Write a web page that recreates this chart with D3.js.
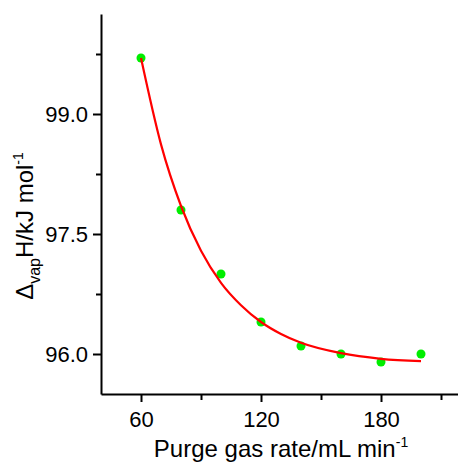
<!DOCTYPE html>
<html>
<head>
<meta charset="utf-8">
<script src="https://cdn.jsdelivr.net/npm/d3@7"></script>
<style>
  body { margin: 0; background: #fff; }
  svg { display: block; font-family: "Liberation Sans", Arial, sans-serif; }
</style>
</head>
<body>
<div id="chart"></div>
<script>
// measured points
const rates = [60, 80, 100, 120, 140, 160, 180, 200];
const enthalpy = [99.70, 97.80, 97.00, 96.40, 96.10, 96.00, 95.90, 96.00];

// fitted curve
const fitRates = [60, 70, 80, 90, 100, 110, 120, 130, 140, 160, 180, 200];
const fitEnthalpy = [99.70, 98.62, 97.85, 97.29, 96.89, 96.61, 96.40, 96.25, 96.14, 96.01, 95.94, 95.91];

const xMajor = [60, 120, 180];
const xMinor = [90, 150, 210];
const yMajor = [96.0, 97.5, 99.0];
const yMinor = [96.75, 98.25, 99.75];

const W = 458, H = 465;

const svg = d3.select("#chart")
  .append("svg")
  .attr("width", W)
  .attr("height", H);

const x = d3.scaleLinear().domain([40, 220]).range([101, 461]);
const y = d3.scaleLinear().domain([95.5, 100.25]).range([394, 14]);

// minor ticks first (no labels)
svg.append("g")
  .attr("transform", "translate(0,394)")
  .call(d3.axisBottom(x).tickValues(xMinor).tickSize(6).tickFormat(""))
  .call(g => g.select(".domain").remove());
svg.append("g")
  .attr("transform", "translate(101,0)")
  .call(d3.axisLeft(y).tickValues(yMinor).tickSize(5).tickFormat(""))
  .call(g => g.select(".domain").remove());

// major axes
svg.append("g")
  .attr("transform", "translate(0,394)")
  .call(d3.axisBottom(x).tickValues(xMajor).tickSize(8).tickSizeOuter(0).tickPadding(9));
svg.append("g")
  .attr("transform", "translate(101,0)")
  .call(d3.axisLeft(y).tickValues(yMajor).tickSize(8).tickSizeOuter(0).tickPadding(5)
    .tickFormat(d3.format(".1f")));

svg.selectAll(".domain, .tick line")
  .attr("stroke", "#000")
  .attr("stroke-width", 2);
svg.selectAll(".tick text")
  .attr("fill", "#000")
  .style("font-size", "22px")
  .style("font-family", "Liberation Sans, Arial, sans-serif");

// data points
svg.append("g")
  .selectAll("circle")
  .data(rates)
  .enter()
  .append("circle")
  .attr("cx", d => x(d))
  .attr("cy", (d, i) => y(enthalpy[i]))
  .attr("r", 4.5)
  .attr("fill", "#00ee00");

// fit line
const line = d3.line()
  .x(d => x(d[0]))
  .y(d => y(d[1]))
  .curve(d3.curveMonotoneX);
svg.append("path")
  .datum(fitRates.map((r, i) => [r, fitEnthalpy[i]]))
  .attr("d", line)
  .attr("fill", "none")
  .attr("stroke", "#ff0000")
  .attr("stroke-width", 2.2);

// axis titles
const xt = svg.append("text")
  .attr("x", 281)
  .attr("y", 457)
  .attr("text-anchor", "middle")
  .style("font-size", "24px");
xt.append("tspan").text("Purge gas rate/mL min");
xt.append("tspan").attr("dy", -10).style("font-size", "14px").text("-1");

const yt = svg.append("text")
  .attr("transform", "translate(33,226) rotate(-90)")
  .attr("text-anchor", "middle")
  .style("font-size", "24px");
yt.append("tspan").text("Δ");
yt.append("tspan").attr("dy", 7).style("font-size", "16px").text("vap");
yt.append("tspan").attr("dy", -7).text("H/kJ mol");
yt.append("tspan").attr("dy", -10).style("font-size", "14px").text("-1");
</script>
</body>
</html>
